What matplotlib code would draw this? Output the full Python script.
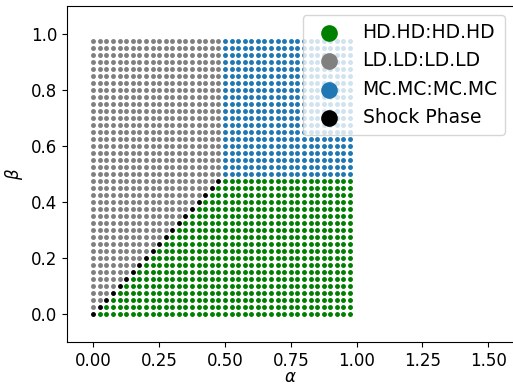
import numpy as np
import matplotlib
matplotlib.use("Agg")
import matplotlib.pyplot as plt

# parameter grid
alpha_vals = np.round(np.arange(0, 1.0, 0.025), 3)
beta_vals = np.round(np.arange(0, 1.0, 0.025), 3)
critical = 0.5

phase_names = ["HD.HD:HD.HD", "LD.LD:LD.LD", "MC.MC:MC.MC", "Shock Phase"]
phase_colors = ["green", "gray", "tab:blue", "black"]

A, B = np.meshgrid(alpha_vals, beta_vals)
A = A.ravel(); B = B.ravel()
phase = np.empty(A.shape, dtype=int)
for i, (a, b) in enumerate(zip(A, B)):
    if a >= critical and b >= critical:
        phase[i] = 2
    elif a >= critical:
        phase[i] = 0
    elif b >= critical:
        phase[i] = 1
    elif np.isclose(a, b):
        phase[i] = 3
    elif b > a:
        phase[i] = 1
    else:
        phase[i] = 0

fig = plt.figure(figsize=(5.13, 3.86), dpi=100)
ax = fig.add_axes([67 / 513, 44 / 386, 447.6 / 513, 336 / 386])
for k, (name, col) in enumerate(zip(phase_names, phase_colors)):
    m = phase == k
    ax.scatter(A[m], B[m], s=12.5, color=col, label=name, linewidths=0)

ax.set_xlim(-0.1, 1.6)
ax.set_ylim(-0.1, 1.1)
ax.set_xticks([0.0, 0.25, 0.5, 0.75, 1.0, 1.25, 1.5])
ax.set_yticks([0.0, 0.2, 0.4, 0.6, 0.8, 1.0])
ax.tick_params(labelsize=12)
ax.set_xlabel(r"$\alpha$", fontsize=12, labelpad=-1)
ax.set_ylabel(r"$\beta$", fontsize=12)
ax.legend(loc="upper right", fontsize=13.5, markerscale=3.4, handletextpad=0.8,
          borderaxespad=0.5, labelspacing=0.5)
fig.savefig("out.png", dpi=100)
